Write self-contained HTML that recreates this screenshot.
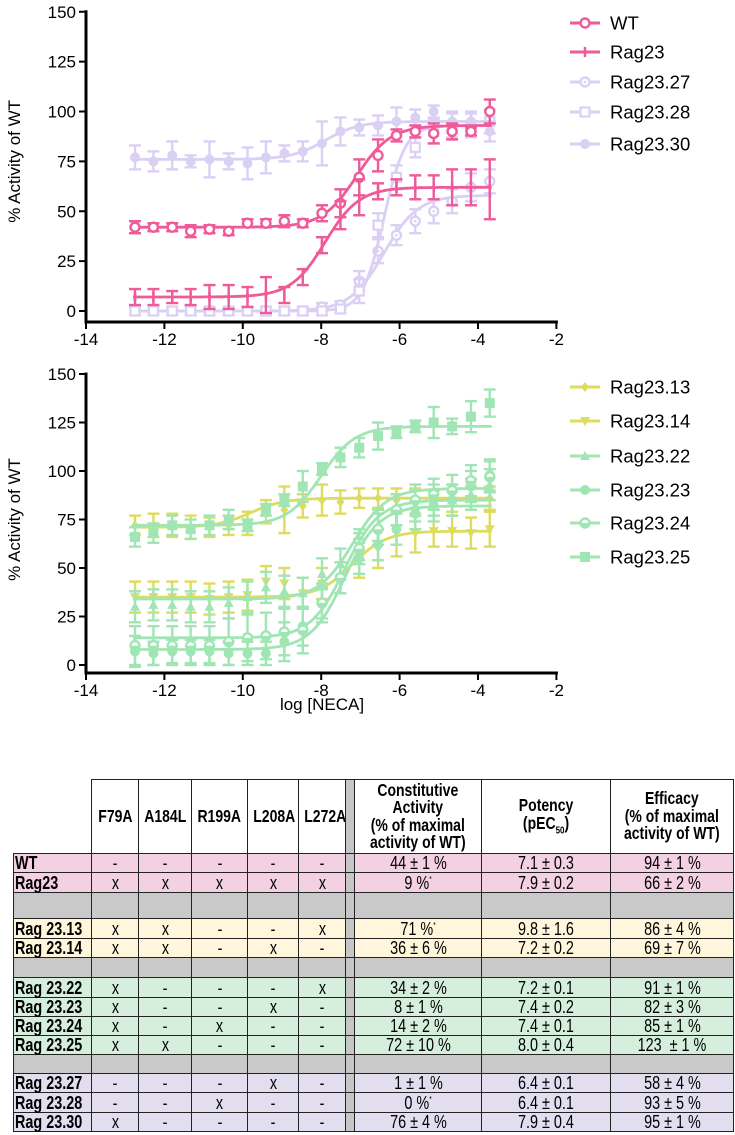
<!DOCTYPE html>
<html><head><meta charset="utf-8">
<style>
body{margin:0;background:#fff;width:735px;height:1135px;position:relative;overflow:hidden;font-family:"Liberation Sans",sans-serif}
svg{position:absolute;left:0;top:0}
table{position:absolute;left:13px;top:779px;width:720px;border-collapse:collapse;table-layout:fixed;font-family:"Liberation Sans",sans-serif;font-size:18px;line-height:1}
td{border:1.5px solid #222;text-align:center;padding:0;overflow:hidden;white-space:nowrap}
td span.c{display:inline-block;transform:scaleX(0.8);transform-origin:center}
td.lab{text-align:left;font-weight:bold;padding-left:1px;overflow:visible}
td.lab span.c{transform-origin:left center;width:10px}
tr.h td{font-weight:bold;line-height:1.0;font-size:17.5px}
td.blank{border:none;border-bottom:1.5px solid #222}
tr.g td{background:#c9c9c9}
tr.pk td{background:#f3d1e2} tr.yl td{background:#fff6db} tr.gr td{background:#d6efdc} tr.lv td{background:#e2deef}
tr td.sep{background:#c6c6c6}
</style></head><body>
<svg id="chart" width="735" height="720" viewBox="0 0 735 720"></svg>

<table>
<colgroup><col style="width:78px"><col style="width:47px"><col style="width:53px"><col style="width:56px"><col style="width:51px"><col style="width:47px"><col style="width:9px"><col style="width:127px"><col style="width:129px"><col style="width:123px"></colgroup>
<tr class="h" style="height:74px"><td class="blank"></td><td>F79A</td><td>A184L</td><td>R199A</td><td>L208A</td><td>L272A</td><td class="sep"></td><td>Constitutive<br>Activity<br>(% of maximal<br>activity of WT)</td><td>Potency<br>(pEC<sub style="font-size:10px">50</sub>)</td><td>Efficacy<br>(% of maximal<br>activity of WT)</td></tr>
<tr class="pk" style="height:19px"><td class="lab">WT</td><td>-</td><td>-</td><td>-</td><td>-</td><td>-</td><td class="sep"></td><td>44 ± 1 %</td><td>7.1 ± 0.3</td><td>94 ± 1 %</td></tr>
<tr class="pk" style="height:20px"><td class="lab">Rag23</td><td>x</td><td>x</td><td>x</td><td>x</td><td>x</td><td class="sep"></td><td>9 %<sup style="font-size:8px">*</sup></td><td>7.9 ± 0.2</td><td>66 ± 2 %</td></tr>
<tr class="g" style="height:26px"><td></td><td></td><td></td><td></td><td></td><td></td><td class="sep"></td><td></td><td></td><td></td></tr>
<tr class="yl" style="height:20px"><td class="lab">Rag 23.13</td><td>x</td><td>x</td><td>-</td><td>-</td><td>x</td><td class="sep"></td><td>71 %<sup style="font-size:8px">*</sup></td><td>9.8 ± 1.6</td><td>86 ± 4 %</td></tr>
<tr class="yl" style="height:19px"><td class="lab">Rag 23.14</td><td>x</td><td>x</td><td>-</td><td>x</td><td>-</td><td class="sep"></td><td>36 ± 6 %</td><td>7.2 ± 0.2</td><td>69 ± 7 %</td></tr>
<tr class="g" style="height:20px"><td></td><td></td><td></td><td></td><td></td><td></td><td class="sep"></td><td></td><td></td><td></td></tr>
<tr class="gr" style="height:20px"><td class="lab">Rag 23.22</td><td>x</td><td>-</td><td>-</td><td>-</td><td>x</td><td class="sep"></td><td>34 ± 2 %</td><td>7.2 ± 0.1</td><td>91 ± 1 %</td></tr>
<tr class="gr" style="height:19px"><td class="lab">Rag 23.23</td><td>x</td><td>-</td><td>-</td><td>x</td><td>-</td><td class="sep"></td><td>8 ± 1 %</td><td>7.4 ± 0.2</td><td>82 ± 3 %</td></tr>
<tr class="gr" style="height:19px"><td class="lab">Rag 23.24</td><td>x</td><td>-</td><td>x</td><td>-</td><td>-</td><td class="sep"></td><td>14 ± 2 %</td><td>7.4 ± 0.1</td><td>85 ± 1 %</td></tr>
<tr class="gr" style="height:19px"><td class="lab">Rag 23.25</td><td>x</td><td>x</td><td>-</td><td>-</td><td>-</td><td class="sep"></td><td>72 ± 10 %</td><td>8.0 ± 0.4</td><td>123&nbsp; ± 1 %</td></tr>
<tr class="g" style="height:19px"><td></td><td></td><td></td><td></td><td></td><td></td><td class="sep"></td><td></td><td></td><td></td></tr>
<tr class="lv" style="height:19px"><td class="lab">Rag 23.27</td><td>-</td><td>-</td><td>-</td><td>x</td><td>-</td><td class="sep"></td><td>1 ± 1 %</td><td>6.4 ± 0.1</td><td>58 ± 4 %</td></tr>
<tr class="lv" style="height:20px"><td class="lab">Rag 23.28</td><td>-</td><td>-</td><td>x</td><td>-</td><td>-</td><td class="sep"></td><td>0 %<sup style="font-size:8px">*</sup></td><td>6.4 ± 0.1</td><td>93 ± 5 %</td></tr>
<tr class="lv" style="height:18px"><td class="lab">Rag 23.30</td><td>x</td><td>-</td><td>-</td><td>-</td><td>-</td><td class="sep"></td><td>76 ± 4 %</td><td>7.9 ± 0.4</td><td>95 ± 1 %</td></tr>
</table>

<script>
const doses = [-12.75,-12.28,-11.8,-11.33,-10.85,-10.36,-9.88,-9.41,-8.94,-8.47,-7.98,-7.51,-7.03,-6.55,-6.08,-5.6,-5.13,-4.66,-4.18,-3.7];
const xTicks = [-14,-12,-10,-8,-6,-4,-2];
const yTicks = [0,25,50,75,100,125,150];

const topNames = ["WT","Rag23","Rag23.27","Rag23.28","Rag23.30"];
const wtVals   = [42,42,42,40,41,40,44,44,45,44,49,54,67,78,88,90,89,90,90,100];
const wtErr    = [3,2,2,3,2,2,2,2,3,2,4,7,9,8,3,3,5,4,2,6];
const r23Vals  = [7,7,7,7,7,7,7,8,8,17,33,48,57,60,62,62,62,62,62,61];
const r23Err   = [4,4,3,4,6,6,5,9,4,4,4,7,9,4,4,6,6,9,9,15];
const r27Vals  = [0,0,0,0,0,0,0,0,0,0,2,3,15,30,38,45,50,55,62,65];
const r27Err   = [2,2,2,2,2,2,2,2,2,2,2,2,5,6,5,6,6,6,7,6];
const r28Vals  = [0,0,0,0,0,0,0,0,0,0,0,1,10,43,67,82,90,93,93,95];
const r28Err   = [2,2,2,2,2,2,2,2,2,2,2,2,6,6,6,5,6,6,6,6];
const r30Vals  = [77,75,78,75,76,75,74,77,79,80,84,90,92,93,95,97,100,95,95,90];
const r30Err   = [6,5,7,3,9,4,8,8,4,5,11,7,4,5,7,4,3,5,5,5];

const botNames = ["Rag23.13","Rag23.14","Rag23.22","Rag23.23","Rag23.24","Rag23.25"];
const r13Vals = [72,72,72,71,71,72,73,79,80,82,85,84,86,86,85,86,85,85,86,86];
const r13Err  = [5,6,6,6,5,5,6,6,12,6,8,6,5,5,6,5,5,6,6,6];
const r14Vals = [35,35,35,35,34,35,36,43,42,37,42,45,55,60,68,68,69,69,68,70];
const r14Err  = [8,8,8,8,8,8,8,8,8,8,8,8,10,10,12,10,8,8,8,9];
const r22Vals = [30,31,31,30,30,32,35,40,38,37,47,52,62,72,80,82,85,85,88,93];
const r22Err  = [8,8,8,8,8,8,8,8,8,8,8,8,8,8,8,8,8,8,8,8];
const r23bVals= [7,6,7,7,7,6,6,6,12,20,32,45,55,62,70,78,82,85,92,98];
const r23bErr = [8,6,6,6,6,6,6,6,10,10,10,8,8,8,8,8,8,8,8,8];
const r24Vals = [10,10,10,10,10,12,14,15,17,18,32,45,60,70,80,85,88,90,95,97];
const r24Err  = [10,10,10,10,10,12,12,12,12,12,8,8,8,8,8,8,8,8,8,8];
const r25Vals = [66,68,72,70,72,75,72,80,85,92,101,107,112,118,120,123,125,123,128,135];
const r25Err  = [5,5,5,5,5,5,3,3,3,8,3,5,5,7,3,3,8,4,8,7];

const topBottoms = [42,7,0,0,76];
const topTops    = [93,62,58,93,95];
const topEC50    = [-7.1,-7.9,-6.4,-6.4,-7.9];
const topHill    = [1,1,1,1.6,1];
const botBottoms = [71,35,34,8,14,72];
const botTops    = [86,69,91,82,85,123];
const botEC50    = [-9.8,-7.2,-7.2,-7.4,-7.4,-8.0];
const botHill    = [1,1,1,1,1,1];

const PINK="#ef5a98", LAV="#dad0f4", YEL="#dedc5e", GRN="#a0e6b4";
const NS="http://www.w3.org/2000/svg";
const svg=document.getElementById('chart');
function mk(tag,attrs,parent){const e=document.createElementNS(NS,tag);for(const k in attrs)e.setAttribute(k,attrs[k]);(parent||svg).appendChild(e);return e;}
function sx(v){return 86+(v+14)*39.2;}

function drawMarker(g,type,x,y,c){
  if(type==="ocircle"){mk('circle',{cx:x,cy:y,r:4.5,fill:'#fff',stroke:c,'stroke-width':2.4},g);}
  else if(type==="ocircdot"){mk('circle',{cx:x,cy:y,r:4.5,fill:'#fff',stroke:c,'stroke-width':2.4},g);mk('circle',{cx:x,cy:y,r:1.3,fill:c},g);}
  else if(type==="circle"){mk('circle',{cx:x,cy:y,r:5,fill:c},g);}
  else if(type==="osquare"){mk('rect',{x:x-4.5,y:y-4.5,width:9,height:9,fill:'#fff',stroke:c,'stroke-width':2.2},g);}
  else if(type==="square"){mk('rect',{x:x-5,y:y-5,width:10,height:10,fill:c},g);}
  else if(type==="plus"){mk('line',{x1:x,y1:y-5,x2:x,y2:y+5,stroke:c,'stroke-width':2.5},g);}
  else if(type==="diamond"){mk('polygon',{points:`${x},${y-5} ${x+4},${y} ${x},${y+5} ${x-4},${y}`,fill:c},g);}
  else if(type==="tridown"){mk('polygon',{points:`${x-5},${y-4} ${x+5},${y-4} ${x},${y+5}`,fill:c},g);}
  else if(type==="triup"){mk('polygon',{points:`${x-5},${y+4} ${x+5},${y+4} ${x},${y-5}`,fill:c},g);}
  else if(type==="halfcirc"){mk('circle',{cx:x,cy:y,r:4.5,fill:'#fff',stroke:c,'stroke-width':2.4},g);mk('path',{d:`M${x-4.5},${y} A4.5,4.5 0 0 0 ${x+4.5},${y} Z`,fill:c},g);}
}

function drawPanel(opt){
  const sy=v=>opt.y0-v*opt.k;
  const g=mk('g',{});
  
  
  const ya=mk('g',{},g);
  
  
  mk('line',{x1:86,y1:sy(150)-1.5,x2:86,y2:opt.xAxisY,stroke:'#000','stroke-width':3},ya);
  yTicks.forEach(t=>{
    mk('line',{x1:79,y1:sy(t),x2:86,y2:sy(t),stroke:'#000','stroke-width':2},ya);
    const tx=mk('text',{x:76,y:sy(t)+6,'text-anchor':'end','font-size':17,fill:'#000'},ya);
    
    
    tx.textContent=t;
  });
  const yt=mk('text',{x:0,y:0,'text-anchor':'middle','font-size':17,transform:`translate(20,${sy(75)}) rotate(-90)`},ya);
  
  
  yt.textContent='% Activity of WT';
  const xa=mk('g',{},g);
  
  
  mk('line',{x1:84.5,y1:opt.xAxisY,x2:sx(-2)+1.5,y2:opt.xAxisY,stroke:'#000','stroke-width':3},xa);
  xTicks.forEach(t=>{
    mk('line',{x1:sx(t),y1:opt.xAxisY,x2:sx(t),y2:opt.xAxisY+7,stroke:'#000','stroke-width':2},xa);
    const tx=mk('text',{x:sx(t),y:opt.xAxisY+23,'text-anchor':'middle','font-size':17},xa);
    
    
    tx.textContent=t;
  });
  opt.series.forEach((s,i)=>{
    const sg=mk('g',{},g);
    
    
    const b=opt.bottoms[s.idx],tp=opt.tops[s.idx],ec=opt.ec50[s.idx],h=opt.hill[s.idx];
    let d='';
    for(let x=-12.8;x<=-3.6;x+=0.05){
      const y=b+(tp-b)/(1+Math.pow(10,(ec-x)*h));
      d+=(d?'L':'M')+sx(x).toFixed(1)+','+sy(y).toFixed(1);
    }
    mk('path',{d:d,fill:'none',stroke:s.color,'stroke-width':2.8},sg);
    doses.forEach((dx,j)=>{
      const x=sx(dx),v=s.vals[j],e=s.err[j];
      mk('line',{x1:x,y1:sy(v+e),x2:x,y2:sy(v-e),stroke:s.color,'stroke-width':2.4},sg);
      mk('line',{x1:x-6,y1:sy(v+e),x2:x+6,y2:sy(v+e),stroke:s.color,'stroke-width':2.4},sg);
      mk('line',{x1:x-6,y1:sy(v-e),x2:x+6,y2:sy(v-e),stroke:s.color,'stroke-width':2.4},sg);
      drawMarker(sg,s.marker,x,sy(v),s.color);
    });
  });
  const lg=mk('g',{},g);
  
  
  opt.series.slice().sort((a,b)=>a.idx-b.idx).forEach((s,i)=>{
    const y=opt.legY[i];
    const le=mk('g',{},lg);
    
    
    mk('line',{x1:570,y1:y,x2:600,y2:y,stroke:s.color,'stroke-width':3},le);
    drawMarker(le,s.marker,585,y,s.color);
    const t=mk('text',{x:610,y:y+6.5,'font-size':18.5},le);
    t.textContent=s.name;
  });
}

drawPanel({name:'top-chart',y0:311,k:1.995,xAxisY:322,
  bottoms:topBottoms,tops:topTops,ec50:topEC50,hill:topHill,
  legY:[23,52,82,112,144],
  series:[
    {name:topNames[2],vals:r27Vals,err:r27Err,color:LAV,marker:'ocircdot',idx:2},
    {name:topNames[3],vals:r28Vals,err:r28Err,color:LAV,marker:'osquare',idx:3},
    {name:topNames[4],vals:r30Vals,err:r30Err,color:LAV,marker:'circle',idx:4},
    {name:topNames[0],vals:wtVals,err:wtErr,color:PINK,marker:'ocircle',idx:0},
    {name:topNames[1],vals:r23Vals,err:r23Err,color:PINK,marker:'plus',idx:1}
  ]});

drawPanel({name:'bottom-chart',y0:665,k:1.94,xAxisY:673,
  bottoms:botBottoms,tops:botTops,ec50:botEC50,hill:botHill,
  legY:[387,421,456,490,523,557],
  series:[
    {name:botNames[0],vals:r13Vals,err:r13Err,color:YEL,marker:'diamond',idx:0},
    {name:botNames[1],vals:r14Vals,err:r14Err,color:YEL,marker:'tridown',idx:1},
    {name:botNames[2],vals:r22Vals,err:r22Err,color:GRN,marker:'triup',idx:2},
    {name:botNames[3],vals:r23bVals,err:r23bErr,color:GRN,marker:'circle',idx:3},
    {name:botNames[4],vals:r24Vals,err:r24Err,color:GRN,marker:'halfcirc',idx:4},
    {name:botNames[5],vals:r25Vals,err:r25Err,color:GRN,marker:'square',idx:5}
  ]});

const xt=mk('text',{x:322,y:710,'text-anchor':'middle','font-size':17});


xt.textContent='log [NECA]';

document.querySelectorAll('td').forEach(td=>{
  if(td.innerHTML.trim()!==''){td.innerHTML='<span class="c">'+td.innerHTML+'</span>';}
});
</script>
</body></html>
